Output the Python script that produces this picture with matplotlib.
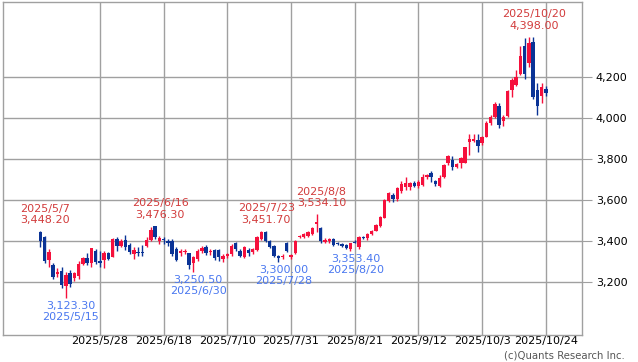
import numpy as np
import matplotlib
matplotlib.use("Agg")
import matplotlib.pyplot as plt

# daily OHLC, 2025/5/7 .. 2025/10/24
opens = [3445, 3422, 3307, 3283, 3241, 3257, 3180, 3245, 3220, 3233,
         3290, 3319, 3293, 3355, 3303, 3307, 3344, 3325, 3411, 3379,
         3406, 3384, 3336, 3347, 3348, 3376, 3406, 3474, 3403, 3412,
         3400, 3400, 3363, 3343, 3346, 3343, 3295, 3314, 3353, 3371,
         3346, 3358, 3356, 3314, 3327, 3338, 3390, 3355, 3325, 3358,
         3346, 3358, 3411, 3445, 3403, 3379, 3330, 3322, 3390, 3322,
         3343, 3419, 3419, 3427, 3437, 3484, 3463, 3398, 3400, 3410,
         3390, 3388, 3384, 3362, 3398, 3372, 3420, 3415, 3436, 3452,
         3474, 3516, 3598, 3628, 3605, 3645, 3665, 3665, 3684, 3668,
         3676, 3715, 3732, 3692, 3672, 3715, 3780, 3797, 3764, 3780,
         3782, 3886, 3890, 3894, 3878, 3911, 3979, 4005, 4060, 3989,
         4011, 4138, 4163, 4216, 4350, 4268, 4374, 4138, 4109, 4143]
highs = [3448.2, 3428, 3361, 3293, 3270, 3277, 3250, 3258, 3250, 3303,
         3325, 3342, 3368, 3361, 3355, 3355, 3350, 3416, 3419, 3410,
         3432, 3390, 3371, 3371, 3384, 3419, 3468, 3476.3, 3427, 3419,
         3411, 3411, 3370, 3363, 3360, 3345, 3330, 3360, 3375, 3380,
         3362, 3362, 3360, 3338, 3345, 3387, 3395, 3363, 3375, 3365,
         3368, 3425, 3451.7, 3448, 3408, 3382, 3335, 3338, 3395, 3340,
         3408, 3432, 3440, 3450, 3472, 3534.1, 3470, 3415, 3418, 3416,
         3398, 3394, 3388, 3392, 3405, 3425, 3428, 3440, 3455, 3482,
         3522, 3605, 3640, 3636, 3665, 3695, 3712, 3690, 3694, 3700,
         3728, 3726, 3742, 3700, 3725, 3778, 3822, 3815, 3780, 3812,
         3862, 3922, 3922, 3922, 3915, 3985, 4016, 4081, 4072, 4016,
         4138, 4195, 4233, 4350, 4390, 4398.0, 4395, 4171, 4171, 4158]
lows = [3371, 3293, 3277, 3217, 3225, 3172, 3123.3, 3177, 3204, 3217,
        3282, 3282, 3277, 3290, 3277, 3268, 3308, 3322, 3355, 3370,
        3358, 3336, 3315, 3326, 3326, 3371, 3403, 3412, 3387, 3387,
        3379, 3330, 3306, 3330, 3340, 3265, 3250.5, 3305, 3345, 3335,
        3335, 3309, 3302, 3301, 3320, 3330, 3355, 3325, 3320, 3330,
        3340, 3352, 3405, 3398, 3368, 3325, 3300.0, 3314, 3350, 3315,
        3338, 3414, 3414, 3420, 3430, 3444, 3392, 3393, 3394, 3378,
        3380, 3372, 3362, 3353.4, 3390, 3360, 3412, 3405, 3430, 3448,
        3470, 3512, 3592, 3590, 3598, 3636, 3650, 3650, 3665, 3660,
        3668, 3702, 3690, 3672, 3665, 3710, 3772, 3748, 3755, 3758,
        3780, 3821, 3885, 3837, 3872, 3908, 3968, 4000, 3951, 3960,
        4008, 4102, 4158, 4211, 4190, 4252, 4093, 4016, 4076, 4110]
closes = [3400, 3306, 3348, 3228, 3252, 3188, 3238, 3193, 3245, 3290,
          3319, 3295, 3368, 3298, 3296, 3344, 3313, 3411, 3379, 3403,
          3371, 3347, 3358, 3344, 3344, 3406, 3455, 3420, 3416, 3408,
          3390, 3338, 3311, 3354, 3354, 3285, 3322, 3354, 3368, 3343,
          3354, 3318, 3325, 3327, 3336, 3379, 3363, 3330, 3371, 3342,
          3363, 3419, 3444, 3403, 3374, 3330, 3319, 3330, 3355, 3335,
          3403, 3427, 3436, 3447, 3463, 3495, 3403, 3408, 3412, 3384,
          3385, 3378, 3365, 3390, 3394, 3420, 3417, 3436, 3450, 3478,
          3518, 3600, 3636, 3607, 3660, 3680, 3684, 3683, 3672, 3690,
          3715, 3722, 3715, 3678, 3710, 3772, 3815, 3764, 3776, 3808,
          3860, 3899, 3898, 3867, 3911, 3979, 4008, 4068, 3967, 4005,
          4135, 4187, 4203, 4304, 4216, 4366, 4106, 4060, 4151, 4125]

# x-axis labels, one every 15 sessions counted back from the last one
tick_labels = ["2025/5/28", "2025/6/18", "2025/7/10", "2025/7/31",
               "2025/8/21", "2025/9/12", "2025/10/3", "2025/10/24"]
y_ticks = [3200, 3400, 3600, 3800, 4000, 4200]

# peaks / troughs marked on the chart
ann_dates = ["2025/5/7", "2025/5/15", "2025/6/16", "2025/6/30", "2025/7/23",
             "2025/7/28", "2025/8/8", "2025/8/20", "2025/10/20"]
ann_values = [3448.20, 3123.30, 3476.30, 3250.50, 3451.70,
              3300.00, 3534.10, 3353.40, 4398.00]
ann_kinds = ["high", "low", "high", "low", "high", "low", "high", "low", "high"]

UP = "#f5103c"
DOWN = "#0a3396"
GRID = "#a0a0a0"

o = np.array(opens, dtype=float)
h = np.array(highs, dtype=float)
l = np.array(lows, dtype=float)
c = np.array(closes, dtype=float)
x = np.arange(len(o))
n = len(o)

fig = plt.figure(figsize=(6.38, 3.62), dpi=100)
ax = fig.add_axes([3 / 638, 27 / 362, 579 / 638, 333 / 362])

up = c >= o
cols = np.where(up, UP, DOWN)
ax.vlines(x, l, h, colors=cols, linewidth=1, zorder=3)
body_lo = np.minimum(o, c)
body_h = np.maximum(np.abs(c - o), 3)
ax.bar(x, body_h, bottom=body_lo, width=0.8, color=cols, linewidth=0, zorder=4)

# annotations
for d, v, k in zip(ann_dates, ann_values, ann_kinds):
    if k == "high":
        i = int(np.argmin(np.abs(h - v)))
        ax.annotate(f"{d}\n{v:,.2f}", xy=(i, v), xytext=(5, 6),
                    textcoords="offset pixels", ha="center", va="bottom",
                    color="#d23c3c", fontsize=8, linespacing=1.15, zorder=5)
    else:
        i = int(np.argmin(np.abs(l - v)))
        ax.annotate(f"{v:,.2f}\n{d}", xy=(i, v), xytext=(5, -3),
                    textcoords="offset pixels", ha="center", va="top",
                    color="#4a78f0", fontsize=8, linespacing=1.15, zorder=5)

ax.set_xlim(-8.8, 127.5)
ax.set_ylim(2943, 4567)

tick_pos = [n - 1 - 15 * k for k in range(len(tick_labels))][::-1]
ax.set_xticks(tick_pos)
ax.set_xticklabels(tick_labels)
ax.set_yticks(y_ticks)
ax.set_yticklabels([f"{t:,}" for t in y_ticks])

ax.yaxis.tick_right()
ax.tick_params(axis="y", length=7, color=GRID, pad=3, labelsize=8)
ax.tick_params(axis="x", length=0, pad=1, labelsize=8)
ax.grid(True, color=GRID, linewidth=1, zorder=0)
ax.set_axisbelow(True)
for s in ax.spines.values():
    s.set_color(GRID)
    s.set_linewidth(1)

fig.text(0.98, 0.004, "(c)Quants Research Inc.", ha="right", va="bottom",
         color="#555555", fontsize=7.3)

fig.savefig("out.png", dpi=100)
